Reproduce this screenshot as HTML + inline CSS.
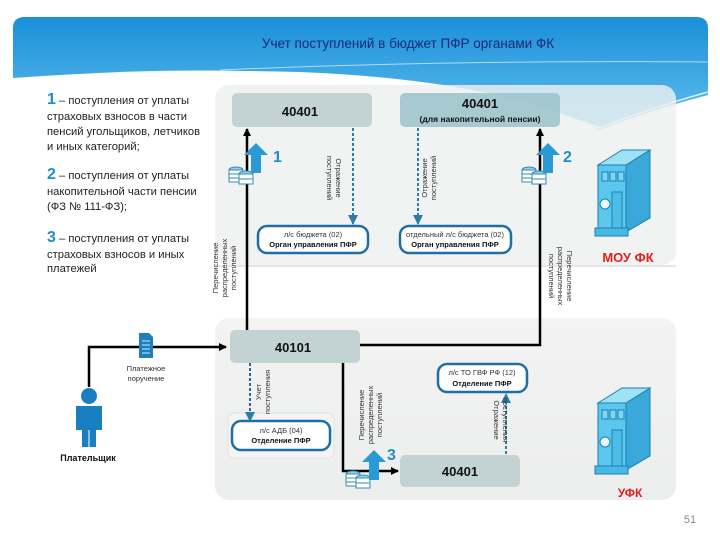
<!DOCTYPE html>
<html><head><meta charset="utf-8"><style>
html,body{margin:0;padding:0;background:#fff}
svg{display:block}
text{font-family:"Liberation Sans",sans-serif}
</style></head><body>
<svg width="720" height="540" viewBox="0 0 720 540" xmlns="http://www.w3.org/2000/svg">
<defs>
<linearGradient id="hb" x1="0" y1="0" x2="0" y2="1">
<stop offset="0" stop-color="#1a8fd8"/><stop offset="1" stop-color="#62c0ee"/></linearGradient>
<linearGradient id="pn" x1="0" y1="0" x2="0" y2="1">
<stop offset="0" stop-color="#f2f3f2"/><stop offset="1" stop-color="#eceeed"/></linearGradient>
<marker id="ab" markerWidth="8" markerHeight="8" refX="7" refY="4" orient="auto" markerUnits="userSpaceOnUse"><path d="M0,0 L8,4 L0,8 z" fill="#000"/></marker>
<marker id="ad" markerWidth="10" markerHeight="10" refX="9" refY="5" orient="auto" markerUnits="userSpaceOnUse"><path d="M0,0 L10,5 L0,10 z" fill="#2a7fa8"/></marker>
<g id="coins">
<ellipse cx="0" cy="0" rx="7" ry="3" fill="#8fd0ef" stroke="#3a8ab0"/>
<rect x="-7" y="0" width="14" height="12" fill="#fff" stroke="#3a8ab0"/>
<line x1="-7" y1="4" x2="7" y2="4" stroke="#3a8ab0"/><line x1="-7" y1="8" x2="7" y2="8" stroke="#3a8ab0"/>
<ellipse cx="10" cy="4" rx="7" ry="3" fill="#8fd0ef" stroke="#3a8ab0"/>
<rect x="3" y="4" width="14" height="10" fill="#fff" stroke="#3a8ab0"/>
<line x1="3" y1="9" x2="17" y2="9" stroke="#3a8ab0"/>
</g>
<g id="uparr"><path d="M-5,30 L-5,12 L-12,12 L0,0 L12,12 L5,12 L5,30 z" fill="#2a9ad4"/></g>
<g id="bld">
<path d="M0,15 L28,15 L28,82 L0,82 z" fill="#5cc7ee" stroke="#1c7fb0"/>
<path d="M28,15 L52,0 L52,68 L28,82 z" fill="#3aa9da" stroke="#1c7fb0"/>
<path d="M0,15 L24,0 L52,0 L28,15 z" fill="#9fe2f8" stroke="#1c7fb0"/>
<rect x="4" y="22" width="6" height="9" fill="#7bd6f3" stroke="#1c7fb0"/>
<rect x="12" y="22" width="6" height="9" fill="#7bd6f3" stroke="#1c7fb0"/>
<rect x="20" y="22" width="6" height="9" fill="#7bd6f3" stroke="#1c7fb0"/>
<rect x="14" y="42" width="10" height="38" fill="#4dbde8" stroke="#1c7fb0"/>
<circle cx="7" cy="54" r="5" fill="#e8f8ff" stroke="#1c7fb0"/>
<path d="M-3,78 L30,78 L30,86 L-3,86 z" fill="#48b8e4" stroke="#1c7fb0"/>
</g>
</defs>

<!-- header -->
<path d="M13,28 Q13,17 25,17 L696,17 Q708,17 708,28 L708,95 Q650,110 600,130 Q500,80 300,72 Q150,68 13,78 z" fill="url(#hb)"/>
<path d="M13,80 Q160,66 300,74 Q480,84 600,128 Q650,108 708,92" fill="none" stroke="#fff" stroke-width="1.5" opacity="0.8"/>
<path d="M220,70 Q450,60 708,62" fill="none" stroke="#fff" stroke-width="1" opacity="0.6"/>
<text x="408" y="48" font-size="13.5" fill="#1a2a7a" text-anchor="middle">Учет поступлений в бюджет ПФР органами ФК</text>

<!-- panels -->
<rect x="215" y="85" width="461" height="180" rx="14" fill="#eef0ef" opacity="0.82"/>
<rect x="215" y="318" width="461" height="182" rx="14" fill="url(#pn)"/>
<line x1="215" y1="266" x2="676" y2="266" stroke="#ccc"/>

<!-- left legend -->
<g font-size="11.2" fill="#222">
<text x="47" y="104"><tspan fill="#1e90c8" font-size="16" font-weight="bold">1</tspan> – поступления от уплаты</text>
<text x="47" y="120">страховых взносов в части</text>
<text x="47" y="135">пенсий угольщиков, летчиков</text>
<text x="47" y="150">и иных категорий;</text>
<text x="47" y="179"><tspan fill="#1e90c8" font-size="16" font-weight="bold">2</tspan> – поступления от уплаты</text>
<text x="47" y="195">накопительной части пенсии</text>
<text x="47" y="210">(ФЗ № 111-ФЗ);</text>
<text x="47" y="242"><tspan fill="#1e90c8" font-size="16" font-weight="bold">3</tspan> – поступления от уплаты</text>
<text x="47" y="258">страховых взносов и иных</text>
<text x="47" y="272">платежей</text>
</g>

<!-- top boxes -->
<rect x="232" y="93" width="140" height="34" rx="5" fill="#c3d3d4"/>
<text x="300" y="116" font-size="13" font-weight="bold" text-anchor="middle" fill="#111">40401</text>
<rect x="400" y="93" width="160" height="34" rx="5" fill="#9fc4cc" opacity="0.9"/>
<text x="480" y="108" font-size="13" font-weight="bold" text-anchor="middle" fill="#111">40401</text>
<text x="480" y="122" font-size="8.5" font-weight="bold" text-anchor="middle" fill="#111">(для накопительной пенсии)</text>

<rect x="258" y="226" width="110" height="27" rx="9" fill="#fff" stroke="#1f6fa6" stroke-width="2.5"/>
<text x="313" y="237" font-size="7.5" text-anchor="middle" fill="#333">л/с бюджета (02)</text>
<text x="313" y="247" font-size="7.5" font-weight="bold" text-anchor="middle" fill="#111">Орган управления ПФР</text>
<rect x="400" y="226" width="111" height="27" rx="9" fill="#fff" stroke="#1f6fa6" stroke-width="2.5"/>
<text x="455" y="237" font-size="7.5" text-anchor="middle" fill="#333">отдельный л/с бюджета (02)</text>
<text x="455" y="247" font-size="7.5" font-weight="bold" text-anchor="middle" fill="#111">Орган управления ПФР</text>

<!-- dashed top -->
<line x1="353" y1="128" x2="353" y2="224" stroke="#2a7fa8" stroke-width="2" stroke-dasharray="3,2" marker-end="url(#ad)"/>
<line x1="418" y1="128" x2="418" y2="224" stroke="#2a7fa8" stroke-width="2" stroke-dasharray="3,2" marker-end="url(#ad)"/>
<text transform="translate(336,178) rotate(90)" font-size="7.5" fill="#333" text-anchor="middle">Отражение<tspan x="0" dy="9">поступлений</tspan></text>
<text transform="translate(427,178) rotate(-90)" font-size="7.5" fill="#333" text-anchor="middle">Отражение<tspan x="0" dy="9">поступлений</tspan></text>

<!-- main lines -->
<line x1="247" y1="330" x2="247" y2="129" stroke="#000" stroke-width="2.5" marker-end="url(#ab)"/>
<polyline points="360,345 540,345 540,129" fill="none" stroke="#000" stroke-width="2.5" marker-end="url(#ab)"/>
<text transform="translate(218,268) rotate(-90)" font-size="7.5" fill="#333" text-anchor="middle">Перечисление<tspan x="0" dy="9">распределенных</tspan><tspan x="0" dy="9">поступлений</tspan></text>
<text transform="translate(567,276) rotate(90)" font-size="7.5" fill="#333" text-anchor="middle">Перечисление<tspan x="0" dy="9">распределенных</tspan><tspan x="0" dy="9">поступлений</tspan></text>

<use href="#coins" x="236" y="170"/><use href="#uparr" x="256" y="143"/>
<text x="273" y="162" font-size="16" font-weight="bold" fill="#1e90c8">1</text>
<use href="#coins" x="529" y="170"/><use href="#uparr" x="548" y="143"/>
<text x="563" y="162" font-size="16" font-weight="bold" fill="#1e90c8">2</text>

<use href="#bld" x="598" y="150"/>
<text x="628" y="262" font-size="13" font-weight="bold" fill="#e0201e" text-anchor="middle">МОУ ФК</text>

<!-- bottom -->
<rect x="230" y="330" width="130" height="33" rx="5" fill="#c3d3d4"/>
<text x="293" y="352" font-size="13" font-weight="bold" text-anchor="middle" fill="#111">40101</text>

<polyline points="89,387 89,347 226,347" fill="none" stroke="#000" stroke-width="2.5" marker-end="url(#ab)"/>
<path d="M139,333 L149,333 L153,337 L153,358 L139,358 z" fill="#1e7fc0"/>
<g stroke="#cfe8f7" stroke-width="1"><line x1="142" y1="341" x2="150" y2="341"/><line x1="142" y1="345" x2="150" y2="345"/><line x1="142" y1="349" x2="150" y2="349"/><line x1="142" y1="353" x2="150" y2="353"/></g>
<text x="146" y="371" font-size="7.5" fill="#333" text-anchor="middle">Платежное</text>
<text x="146" y="381" font-size="7.5" fill="#333" text-anchor="middle">поручение</text>
<circle cx="89" cy="396" r="8" fill="#1a7fc0"/>
<path d="M76,406 L102,406 L102,430 L96,430 L96,447 L82,447 L82,430 L76,430 z" fill="#1a7fc0"/>
<line x1="89" y1="430" x2="89" y2="447" stroke="#fff" stroke-width="1"/>
<text x="88" y="461" font-size="9" font-weight="bold" fill="#111" text-anchor="middle">Плательщик</text>

<rect x="228" y="413" width="106" height="45" rx="6" fill="#f3f4f3" stroke="#e2e2e2"/>
<line x1="250" y1="363" x2="250" y2="421" stroke="#2a6a8a" stroke-width="2" stroke-dasharray="3,2" marker-end="url(#ad)"/>
<text transform="translate(261,392) rotate(-90)" font-size="7.5" fill="#333" text-anchor="middle">Учет<tspan x="0" dy="9">поступления</tspan></text>
<rect x="232" y="421" width="98" height="29" rx="9" fill="#fff" stroke="#1f6fa6" stroke-width="2.5"/>
<text x="281" y="433" font-size="7.5" text-anchor="middle" fill="#333">л/с АДБ (04)</text>
<text x="281" y="443" font-size="7.5" font-weight="bold" text-anchor="middle" fill="#111">Отделение ПФР</text>

<polyline points="343,363 343,471 398,471" fill="none" stroke="#000" stroke-width="2.5" marker-end="url(#ab)"/>
<text transform="translate(364,415) rotate(-90)" font-size="7.5" fill="#333" text-anchor="middle">Перечисление<tspan x="0" dy="9">распределенных</tspan><tspan x="0" dy="9">поступлений</tspan></text>
<use href="#coins" x="353" y="474"/><use href="#uparr" x="374" y="450"/>
<text x="387" y="460" font-size="16" font-weight="bold" fill="#1e90c8">3</text>

<rect x="400" y="455" width="120" height="32" rx="5" fill="#c3d3d4"/>
<text x="460" y="476" font-size="13" font-weight="bold" text-anchor="middle" fill="#111">40401</text>

<rect x="438" y="364" width="89" height="28" rx="9" fill="#fff" stroke="#1f6fa6" stroke-width="2.5"/>
<text x="482" y="375" font-size="7.5" text-anchor="middle" fill="#333">л/с ТО ГВФ РФ (12)</text>
<text x="482" y="386" font-size="7.5" font-weight="bold" text-anchor="middle" fill="#111">Отделение ПФР</text>
<line x1="506" y1="454" x2="506" y2="394" stroke="#2a7fa8" stroke-width="2" stroke-dasharray="3,2" marker-end="url(#ad)"/>
<text transform="translate(494,420) rotate(90)" font-size="7.5" fill="#333" text-anchor="middle">Отражение<tspan x="0" dy="-9">поступления</tspan></text>

<use href="#bld" x="598" y="388"/>
<text x="630" y="497" font-size="12" font-weight="bold" fill="#e0201e" text-anchor="middle">УФК</text>

<text x="690" y="523" font-size="11" fill="#888" text-anchor="middle">51</text>
</svg>
</body></html>
